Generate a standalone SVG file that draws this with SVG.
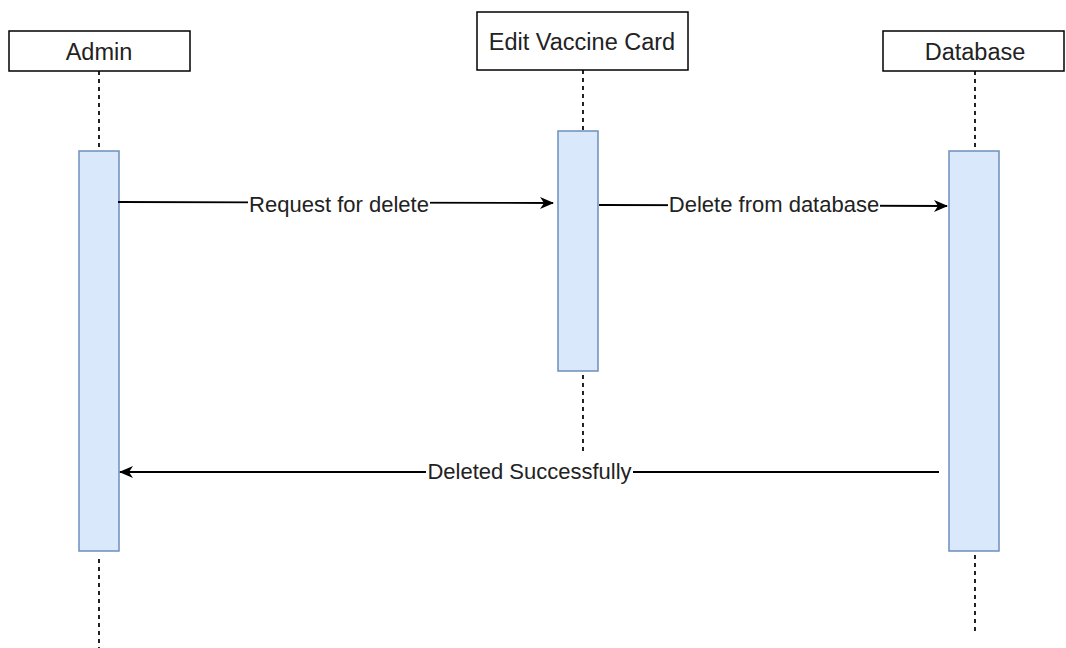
<svg xmlns="http://www.w3.org/2000/svg" width="1066" height="648" viewBox="0 0 1066 648">
<defs>
<style>
.hdr{fill:#fff;stroke:#000;stroke-width:1.5}
.act{fill:#dae8fc;stroke:#6c8ebf;stroke-width:1.5}
.life{stroke:#222;stroke-width:2;stroke-dasharray:4 4;fill:none}
.msg{stroke:#000;stroke-width:1.8;fill:none;marker-end:url(#arr)}
.t{font-family:"Liberation Sans",Arial,sans-serif;font-size:23.5px;fill:#222;text-anchor:middle}
.lbl{font-family:"Liberation Sans",Arial,sans-serif;font-size:22px;fill:#222;text-anchor:middle}
</style>
<marker id="arr" viewBox="0 0 14 12" refX="13" refY="6" markerWidth="14" markerHeight="12" markerUnits="userSpaceOnUse" orient="auto">
<path d="M0,0 L14,6 L0,12 L4,6 Z" fill="#000"/>
</marker>
</defs>
<rect width="1066" height="648" fill="#fff"/>
<g id="lifelines">
<line class="life" x1="99" y1="71" x2="99" y2="151"/>
<line class="life" x1="99" y1="559" x2="99" y2="648"/>
<line class="life" x1="583" y1="70" x2="583" y2="131"/>
<line class="life" x1="583" y1="375" x2="583" y2="452"/>
<line class="life" x1="975" y1="71" x2="975" y2="151"/>
<line class="life" x1="975" y1="555" x2="975" y2="633"/>
</g>
<g id="admin">
<rect class="hdr" x="9" y="31" width="181" height="40"/>
<text class="t" x="99" y="59.5">Admin</text>
<rect class="act" x="79" y="151" width="40" height="400"/>
</g>
<g id="edit-vaccine-card">
<rect class="hdr" x="477" y="12" width="211" height="58"/>
<text class="t" x="582" y="50">Edit Vaccine Card</text>
<rect class="act" x="558" y="131" width="40" height="240"/>
</g>
<g id="database">
<rect class="hdr" x="883" y="31" width="181" height="40"/>
<text class="t" x="975" y="59.5">Database</text>
<rect class="act" x="949" y="151" width="50" height="400"/>
</g>
<g id="connectors">
<line class="msg" x1="118" y1="202" x2="553" y2="203"/>
<rect x="248" y="192" width="182" height="24" fill="#fff"/>
<text class="lbl" x="339" y="212">Request for delete</text>
<line class="msg" x1="599" y1="205" x2="947" y2="206"/>
<rect x="668" y="194" width="212" height="24" fill="#fff"/>
<text class="lbl" x="774" y="212">Delete from database</text>
<line class="msg" x1="939" y1="472" x2="120" y2="472"/>
<rect x="426" y="460" width="207" height="24" fill="#fff"/>
<text class="lbl" x="529.5" y="479">Deleted Successfully</text>
</g>
</svg>
